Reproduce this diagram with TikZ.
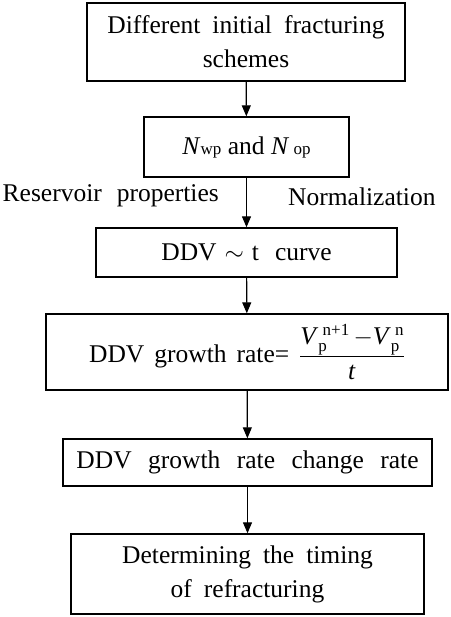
\documentclass[tikz,border=0pt]{standalone}
\usepackage{fontspec}
\setmainfont{Liberation Serif}
\usetikzlibrary{arrows.meta}
\newcommand{\smalltxt}[1]{\mbox{\fontsize{17}{17}\selectfont #1}}
\newcommand{\Vp}[1]{\textit{V}\rlap{\raisebox{-7pt}{\smalltxt{p}}}\,\raisebox{9pt}{\smalltxt{#1}}}
\newcommand{\wordgap}[1]{\spaceskip #1\relax}
\tikzset{
  words/.style={font={\fontsize{25.5}{34}\selectfont\wordgap{#1}}},
  box/.style={draw,line width=1.4pt,align=center,inner sep=0pt,words=12pt},
  lbl/.style={inner sep=0pt,words=15pt},
  flow/.style={line width=1.2pt,-{Triangle[length=11pt,width=9pt]}}
}
\begin{document}
\begin{tikzpicture}[x=1pt,y=-1pt]
\useasboundingbox (0,0) rectangle (450,617);
\node[box,minimum width=318,minimum height=78] (schemes) at (246,42) {Different initial fracturing\\schemes};
\node[box,words=6.5pt,minimum width=205,minimum height=60] (nwop) at (246.5,147) {\textit{N}\smalltxt{wp} and \textit{N}\,\smalltxt{op}};
\node[box,words=8pt,minimum width=301,minimum height=49] (curve) at (246.5,252.5) {DDV $\sim$ t\ \ curve};
\node[box,words=10pt,minimum width=402,minimum height=76] (growth) at (247,352) {DDV growth rate=\hspace{10pt}$\displaystyle\frac{\mbox{\Vp{n+1}\,$-$\Vp{n}}}{\mbox{\textit{t}}}$};
\node[box,words=16.5pt,minimum width=369,minimum height=47] (change) at (247.5,462.5) {DDV growth rate change rate};
\node[box,minimum width=353,minimum height=80] (timing) at (247.5,574) {Determining the timing\\of refracturing};
\node[lbl,anchor=east] (reservoir) at (219,196) {Reservoir properties};
\node[lbl,anchor=west] (normal) at (288,197) {Normalization};
\draw[flow] (schemes) -- (nwop);
\draw[flow] (nwop) -- (curve);
\draw[flow] (curve) -- (growth);
\draw[flow] (growth) -- (change);
\draw[flow] (change) -- (timing);
\end{tikzpicture}
\end{document}
